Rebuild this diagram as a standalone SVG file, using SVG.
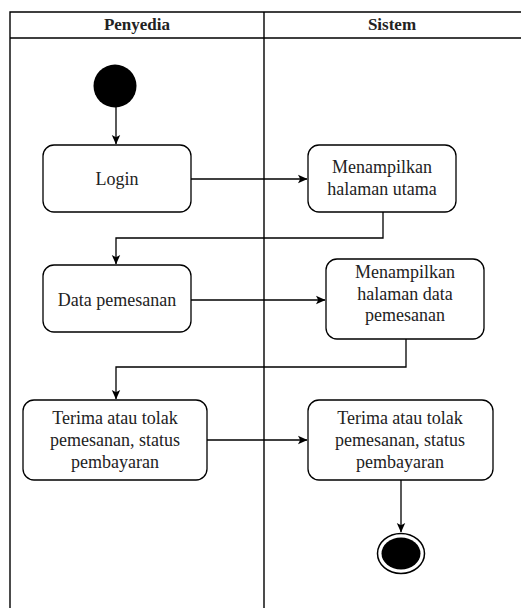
<svg xmlns="http://www.w3.org/2000/svg" width="521" height="608" viewBox="0 0 521 608">
<style>
.lane{stroke:#000;stroke-width:1.4;fill:none}
.box{fill:#fff;stroke:#000;stroke-width:1.3}
.t{font-family:"Liberation Serif","Times New Roman",serif;font-size:18px;fill:#222;text-anchor:middle}
.h{font-family:"Liberation Serif","Times New Roman",serif;font-size:17px;font-weight:bold;fill:#222;text-anchor:middle}
.c{stroke:#000;stroke-width:1.3;fill:none;marker-end:url(#arr)}
</style>
<defs>
<marker id="arr" markerWidth="10" markerHeight="10" refX="9" refY="5" orient="auto" markerUnits="userSpaceOnUse">
<path d="M0,0.8 L9.5,5 L0,9.2 L2.2,5 Z" fill="#000"/>
</marker>
</defs>
<rect width="521" height="608" fill="#fff"/>
<g id="swimlanes">
<path class="lane" d="M10,608 V12 H521 M10,38 H521 M264,12 V608"/>
<text class="h" x="137" y="30">Penyedia</text>
<text class="h" x="392" y="30">Sistem</text>
</g>
<g id="connectors">
<path class="c" d="M116,107 V144"/>
<path class="c" d="M191,179 H307"/>
<path class="c" d="M383,212 V238 H116 V264"/>
<path class="c" d="M191,300 H325"/>
<path class="c" d="M406,339 V367 H116 V399"/>
<path class="c" d="M207,440 H307"/>
<path class="c" d="M401,480 V532"/>
</g>
<g id="start">
<circle cx="115" cy="86" r="21.5" fill="#000"/>
</g>
<g id="login">
<rect class="box" x="43" y="145" width="148" height="67" rx="11"/>
<text class="t" x="117" y="185">Login</text>
</g>
<g id="menampilkan-utama">
<rect class="box" x="308" y="145" width="148" height="67" rx="11"/>
<text class="t" x="382" y="173">Menampilkan</text>
<text class="t" x="382" y="195">halaman utama</text>
</g>
<g id="data-pemesanan">
<rect class="box" x="43" y="265" width="148" height="67" rx="11"/>
<text class="t" x="117" y="306">Data pemesanan</text>
</g>
<g id="menampilkan-data">
<rect class="box" x="326" y="259" width="158" height="80" rx="11"/>
<text class="t" x="405" y="278">Menampilkan</text>
<text class="t" x="405" y="300">halaman data</text>
<text class="t" x="405" y="321">pemesanan</text>
</g>
<g id="terima-penyedia">
<rect class="box" x="23" y="400" width="184" height="80" rx="11"/>
<text class="t" x="115" y="424">Terima atau tolak</text>
<text class="t" x="115" y="446">pemesanan, status</text>
<text class="t" x="115" y="468">pembayaran</text>
</g>
<g id="terima-sistem">
<rect class="box" x="308" y="400" width="185" height="80" rx="11"/>
<text class="t" x="400" y="424">Terima atau tolak</text>
<text class="t" x="400" y="446">pemesanan, status</text>
<text class="t" x="400" y="468">pembayaran</text>
</g>
<g id="end">
<ellipse cx="401" cy="553.5" rx="23.5" ry="20" fill="#fff" stroke="#000" stroke-width="1.5"/>
<ellipse cx="401" cy="553.5" rx="19.5" ry="16" fill="#000"/>
</g>
</svg>
